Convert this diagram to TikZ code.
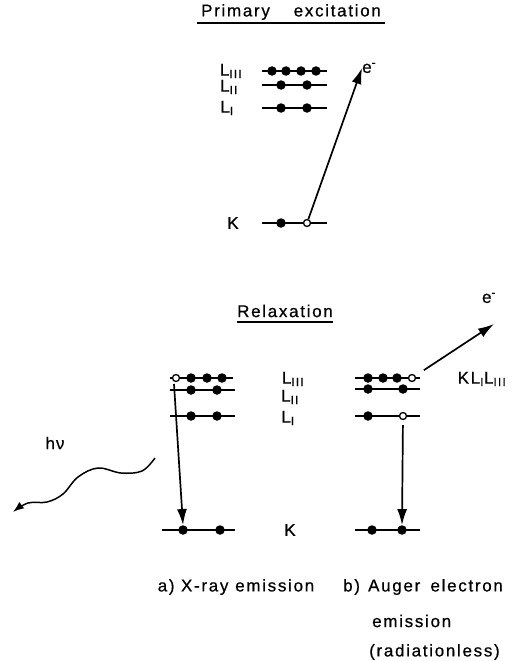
\documentclass[tikz,border=0pt]{standalone}
\usepackage{fontspec}
\setmainfont[LetterSpace=10, FakeBold=0.6]{Liberation Sans}
\usetikzlibrary{arrows.meta}

\tikzset{
  lvl/.style={line width=1.4pt},
  elec/.style={circle, fill, inner sep=0pt, minimum size=9.5pt},
  hole/.style={circle, draw, fill=white, line width=1.3pt, inner sep=0pt, minimum size=7pt},
  lbl/.style={font=\fontsize{17}{20}\selectfont, inner sep=0pt},
  jump/.style={line width=1.7pt, -{Latex[length=16pt,width=10pt]}}
}

\begin{document}
\begin{tikzpicture}[x=1pt, y=-1pt]
  \useasboundingbox (0,0) rectangle (516,661);

  % primary excitation
  \node[lbl] (ttl1) at (291,12) {Primary\hspace*{1.4em}excitation};
  \draw[line width=1.3pt] (197,23) -- (385,23);
  \foreach \y in {71, 85, 108, 223}
    \draw[lvl] (262,\y) -- (327,\y);
  \foreach \x [count=\i] in {272, 286, 301, 316}
    \node[elec] (p3\i) at (\x,71) {};
  \node[elec] (p2a) at (281,85) {};
  \node[elec] (p2b) at (307,85) {};
  \node[elec] (p1a) at (281,108) {};
  \node[elec] (p1b) at (307,108) {};
  \node[elec] (pka) at (281,223) {};
  \node[hole] (pkb) at (307,223) {};
  \node[lbl] (pl3) at (231,71) {L\textsubscript{III}};
  \node[lbl] (pl2) at (229,87) {L\textsubscript{II}};
  \node[lbl] (pl1) at (227,108) {L\textsubscript{I}};
  \node[lbl] (plk) at (233,223) {K};
  \node[lbl, anchor=west] (pe) at (362,68) {e\textsuperscript{-}};
  \draw[jump] (pkb) -- (pe.west);

  % relaxation
  \node[lbl] (ttl2) at (285,311) {Relaxation};
  \draw[line width=1.3pt] (237,322) -- (333,322);

  % a) x-ray emission
  \draw[lvl] (170,378) -- (233,378);
  \draw[lvl] (170,390) -- (235,390);
  \draw[lvl] (170,416) -- (235,416);
  \draw[lvl] (162,530) -- (235,530);
  \node[hole] (a3a) at (176,378) {};
  \foreach \x [count=\i] in {191, 207, 222}
    \node[elec] (a3\i) at (\x,378) {};
  \node[elec] (a2a) at (191,390) {};
  \node[elec] (a2b) at (217,390) {};
  \node[elec] (a1a) at (191,416) {};
  \node[elec] (a1b) at (217,416) {};
  \node[elec] (aka) at (183,530) {};
  \node[elec] (akb) at (220,530) {};
  \coordinate (adrop) at (174,384);
  \draw[jump] (adrop) -- (aka.north);
  \node[lbl] (hnu) at (55,443) {h\hspace{1pt}ν};
  \draw[line width=1.5pt, -{Latex[length=11pt,width=8pt]}] plot[smooth, tension=0.6]
    coordinates {(155,458) (142,471) (121,473) (98,468) (78,477) (63,494) (47,502) (28,503) (13,512)};

  % middle labels
  \node[lbl] (ml3) at (293,379) {L\textsubscript{III}};
  \node[lbl] (ml2) at (290,397) {L\textsubscript{II}};
  \node[lbl] (ml1) at (288,418) {L\textsubscript{I}};
  \node[lbl] (mlk) at (290,530) {K};

  % b) auger emission
  \draw[lvl] (355,378) -- (420,378);
  \draw[lvl] (355,389) -- (420,389);
  \draw[lvl] (355,416) -- (420,416);
  \draw[lvl] (355,530) -- (420,530);
  \foreach \x [count=\i] in {368, 383, 397}
    \node[elec] (b3\i) at (\x,378) {};
  \node[hole] (b3h) at (412,378) {};
  \node[elec] (b2a) at (368,389) {};
  \node[elec] (b2b) at (403,389) {};
  \node[elec] (b1a) at (368,416) {};
  \node[hole] (b1h) at (403,416) {};
  \node[elec] (bka) at (372,530) {};
  \node[elec] (bkb) at (402,530) {};
  \draw[jump, shorten <=5pt] (b1h) -- (bkb.north);
  \coordinate (bout) at (494,324);
  \draw[jump, shorten <=10pt] (b3h) -- (bout);
  \node[lbl] (be) at (489,298) {e\textsuperscript{-}};
  \node[lbl] (bkll) at (482,379) {KL\textsubscript{I}L\textsubscript{III}};

  % captions
  \node[lbl] (capa) at (236,587) {a) X-ray\hspace*{0.4em}emission};
  \node[lbl, anchor=west] (capb) at (343,587) {b)\hspace*{0.1em} Auger\hspace*{0.6em}electron};
  \node[lbl, anchor=west] (capb2) at (372,621) {emission};
  \node[lbl, anchor=west] (capb3) at (369,652) {(radiationless)};
\end{tikzpicture}
\end{document}
